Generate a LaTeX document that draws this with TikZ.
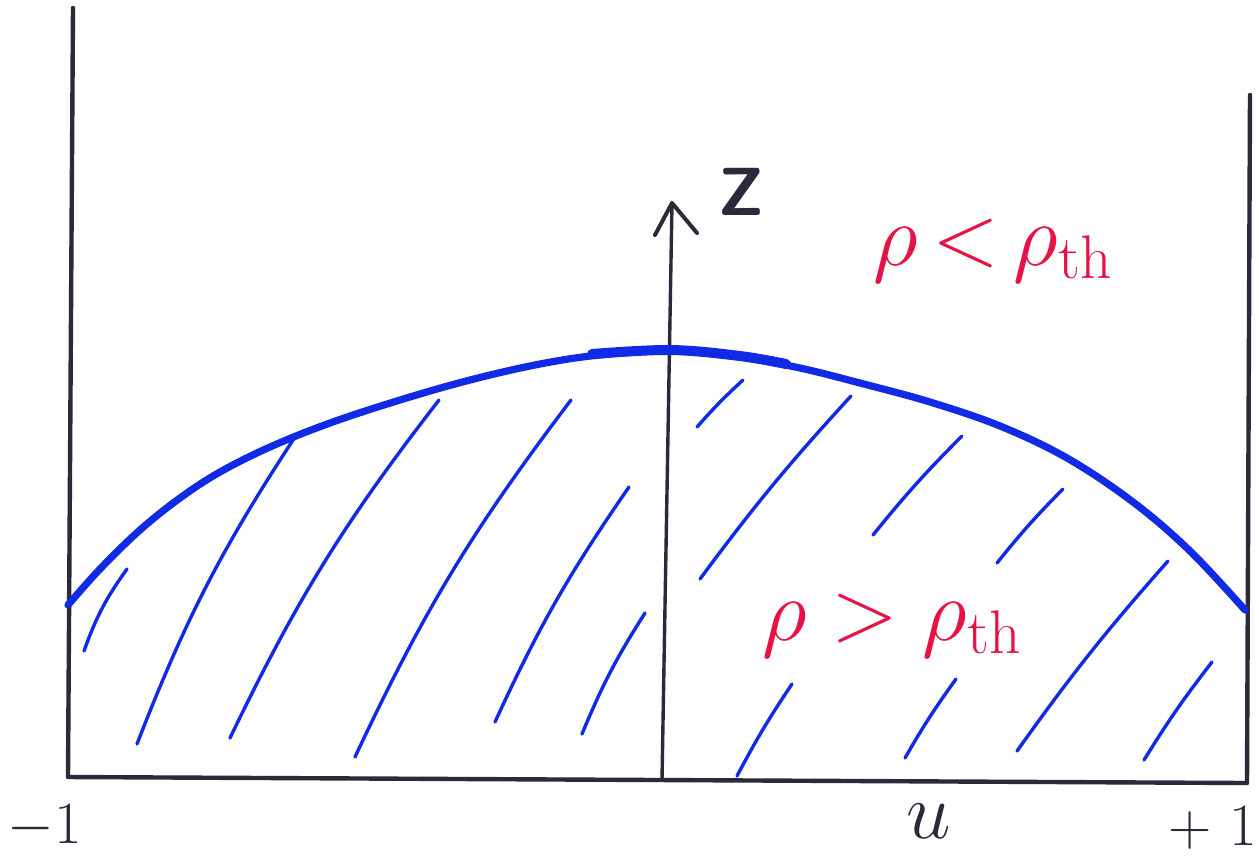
\RequirePackage{fix-cm}
\documentclass[tikz,border=0pt]{standalone}
\definecolor{inkblack}{RGB}{42,42,58}
\definecolor{inkblue}{RGB}{16,42,230}
\definecolor{inkred}{RGB}{230,18,68}
\begin{document}
\begin{tikzpicture}[x=0.5pt,y=-0.5pt,
  frame/.style={line width=2.2pt, draw=inkblack, line cap=round, line join=round},
  curve/.style={line width=3.6pt, draw=inkblue, line cap=round, line join=round},
  hatch/.style={line width=1.7pt, draw=inkblue, line cap=round},
  redlab/.style={text=inkred, inner sep=0pt, anchor=base, font=\fontsize{44}{46}\selectfont},
  blacklab/.style={text=inkblack, inner sep=0pt}]
\useasboundingbox (0,0) rectangle (1259,859);
\clip (0,0) rectangle (1259,859);
% frame
\coordinate (lt) at (73,8);
\coordinate (lb) at (68,777);
\coordinate (rb) at (1247,783);
\coordinate (rt) at (1250,95);
\draw[frame] (lt) -- (lb) -- (rb) -- (rt);
% z axis
\coordinate (zb) at (662,780);
\coordinate (zt) at (672,203);
\coordinate (za) at (655,235);
\coordinate (zc) at (697,233);
\draw[frame, line width=1.7pt] (zb) -- (zt);
\draw[frame, line width=2pt] (za) -- (zt) -- (zc);
\node[blacklab, font=\sffamily\bfseries\fontsize{34}{36}\selectfont] (zlab) at (741,192) {Z};
% threshold curve
\draw[curve] plot[smooth, tension=0.6] coordinates {(68,605) (100,569) (140,530) (180,498) (220,472) (270,447) (330,423) (400,400) (470,380) (540,364) (600,355) (670,351) (740,357) (800,368) (860,383) (930,402) (1000,426) (1067,458) (1133,502) (1190,551) (1245,610)};
\draw[curve, line width=5pt] plot[smooth, tension=0.6] coordinates {(592,354) (670,350) (740,356) (786,364)};
% hatching left
\draw[hatch] (84,651) to[bend left=8] (127,569);
\draw[hatch] (137,744) to[bend left=6] (295,437);
\draw[hatch] (230,738) to[bend left=6] (439,400);
\draw[hatch] (355,757) to[bend left=6] (571,400);
\draw[hatch] (495,722) to[bend left=5] (629,487);
\draw[hatch] (582,734) to[bend left=5] (645,613);
% hatching right
\draw[hatch] (697,427) to[bend left=3] (743,380);
\draw[hatch] (700,579) to[bend left=3] (851,396);
\draw[hatch] (873,535) to[bend left=3] (962,436);
\draw[hatch] (997,563) to[bend left=3] (1063,489);
\draw[hatch] (1017,751) to[bend left=3] (1168,561);
\draw[hatch] (1144,760) to[bend left=3] (1212,662);
\draw[hatch] (737,776) to[bend left=3] (792,684);
\draw[hatch] (905,758) to[bend left=3] (956,679);
% red labels
\node[redlab] (low) at (993,265) {$\rho\,{<}\,\rho_{\mathrm{th}}$};
\node[redlab] (high) at (892,640) {$\rho\;{>}\;\rho_{\mathrm{th}}$};
% axis labels
\node[blacklab, anchor=base, font=\fontsize{30}{32}\selectfont] (m1) at (45,843) {$-1$};
\node[blacklab, anchor=base, font=\fontsize{40}{42}\selectfont] (mu) at (929,838) {$u$};
\node[blacklab, anchor=base west, font=\fontsize{30}{32}\selectfont] (p1) at (1168,845) {$+$\hspace{9pt}$1$};
\end{tikzpicture}
\end{document}
